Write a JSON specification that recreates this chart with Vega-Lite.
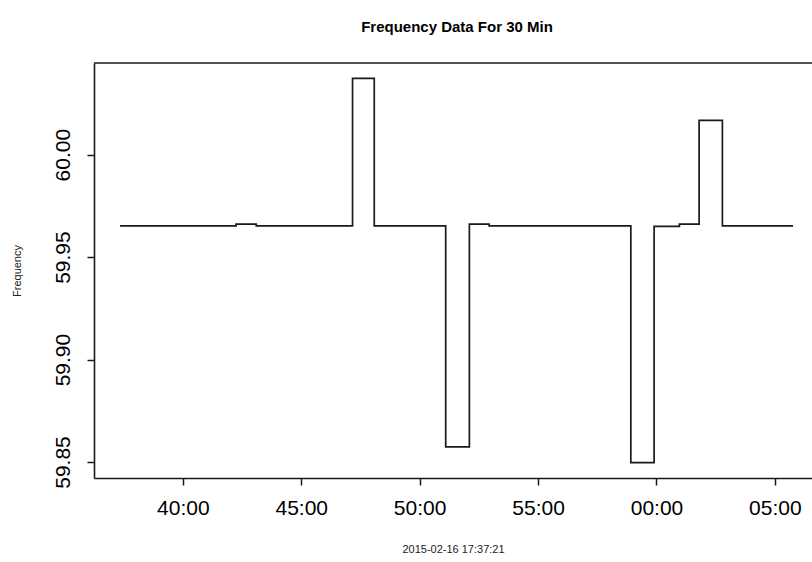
{
  "$schema": "https://vega.github.io/schema/vega-lite/v6.json",
  "width": 718,
  "height": 415,
  "autosize": {"type": "none"},
  "padding": {"left": 94, "top": 63, "right": 0, "bottom": 84},
  "background": "white",
  "title": {
    "text": "Frequency Data For 30 Min",
    "font": "Liberation Sans",
    "fontSize": 15,
    "fontWeight": "bold",
    "color": "black",
    "offset": 27,
    "dx": 4
  },
  "config": {
    "view": {"stroke": null},
    "axis": {
      "grid": false,
      "labelFont": "Liberation Sans",
      "labelFontSize": 21,
      "labelColor": "black",
      "tickColor": "#1a1a1a",
      "tickSize": 7,
      "tickWidth": 1.5,
      "domainColor": "#1a1a1a",
      "domainWidth": 1.6,
      "titleFont": "Liberation Sans",
      "titleFontSize": 11,
      "titleFontWeight": "normal",
      "titleColor": "#222222",
      "labelFlush": false,
      "labelOverlap": false
    }
  },
  "data": {
    "values": [
      {"time": "2015-02-16T17:37:21", "frequency": 59.9652},
      {"time": "2015-02-16T17:42:15", "frequency": 59.9661},
      {"time": "2015-02-16T17:43:06", "frequency": 59.9652},
      {"time": "2015-02-16T17:47:10", "frequency": 60.0372},
      {"time": "2015-02-16T17:48:05", "frequency": 59.9652},
      {"time": "2015-02-16T17:51:06", "frequency": 59.8574},
      {"time": "2015-02-16T17:52:06", "frequency": 59.9661},
      {"time": "2015-02-16T17:52:56", "frequency": 59.9652},
      {"time": "2015-02-16T17:58:55", "frequency": 59.8497},
      {"time": "2015-02-16T17:59:54", "frequency": 59.9650},
      {"time": "2015-02-16T18:00:58", "frequency": 59.9661},
      {"time": "2015-02-16T18:01:48", "frequency": 60.0167},
      {"time": "2015-02-16T18:02:47", "frequency": 59.9652},
      {"time": "2015-02-16T18:05:46", "frequency": 59.9652}
    ]
  },
  "layer": [
    {
      "mark": {"type": "line", "interpolate": "step-after", "color": "#1a1a1a", "strokeWidth": 1.7},
      "encoding": {
        "x": {
          "field": "time",
          "type": "temporal",
          "scale": {
            "domain": [
              {"year": 2015, "month": 2, "date": 16, "hours": 17, "minutes": 36, "seconds": 15},
              {"year": 2015, "month": 2, "date": 16, "hours": 18, "minutes": 6, "seconds": 34}
            ]
          },
          "axis": {
            "values": [
              {"year": 2015, "month": 2, "date": 16, "hours": 17, "minutes": 40},
              {"year": 2015, "month": 2, "date": 16, "hours": 17, "minutes": 45},
              {"year": 2015, "month": 2, "date": 16, "hours": 17, "minutes": 50},
              {"year": 2015, "month": 2, "date": 16, "hours": 17, "minutes": 55},
              {"year": 2015, "month": 2, "date": 16, "hours": 18, "minutes": 0},
              {"year": 2015, "month": 2, "date": 16, "hours": 18, "minutes": 5}
            ],
            "format": "%M:%S",
            "labelPadding": 12,
            "title": "2015-02-16 17:37:21",
            "titlePadding": 25
          }
        },
        "y": {
          "field": "frequency",
          "type": "quantitative",
          "scale": {"domain": [59.8422, 60.0447], "nice": false, "zero": false},
          "axis": {
            "values": [59.85, 59.9, 59.95, 60.0],
            "format": ".2f",
            "labelAngle": -90,
            "labelAlign": "center",
            "labelBaseline": "bottom",
            "labelPadding": 14,
            "title": "Frequency",
            "titlePadding": 30
          }
        }
      }
    },
    {
      "data": {"values": [{}]},
      "mark": {"type": "rule", "color": "#1a1a1a", "strokeWidth": 1.6},
      "encoding": {"y": {"datum": 60.0447}}
    }
  ]
}
